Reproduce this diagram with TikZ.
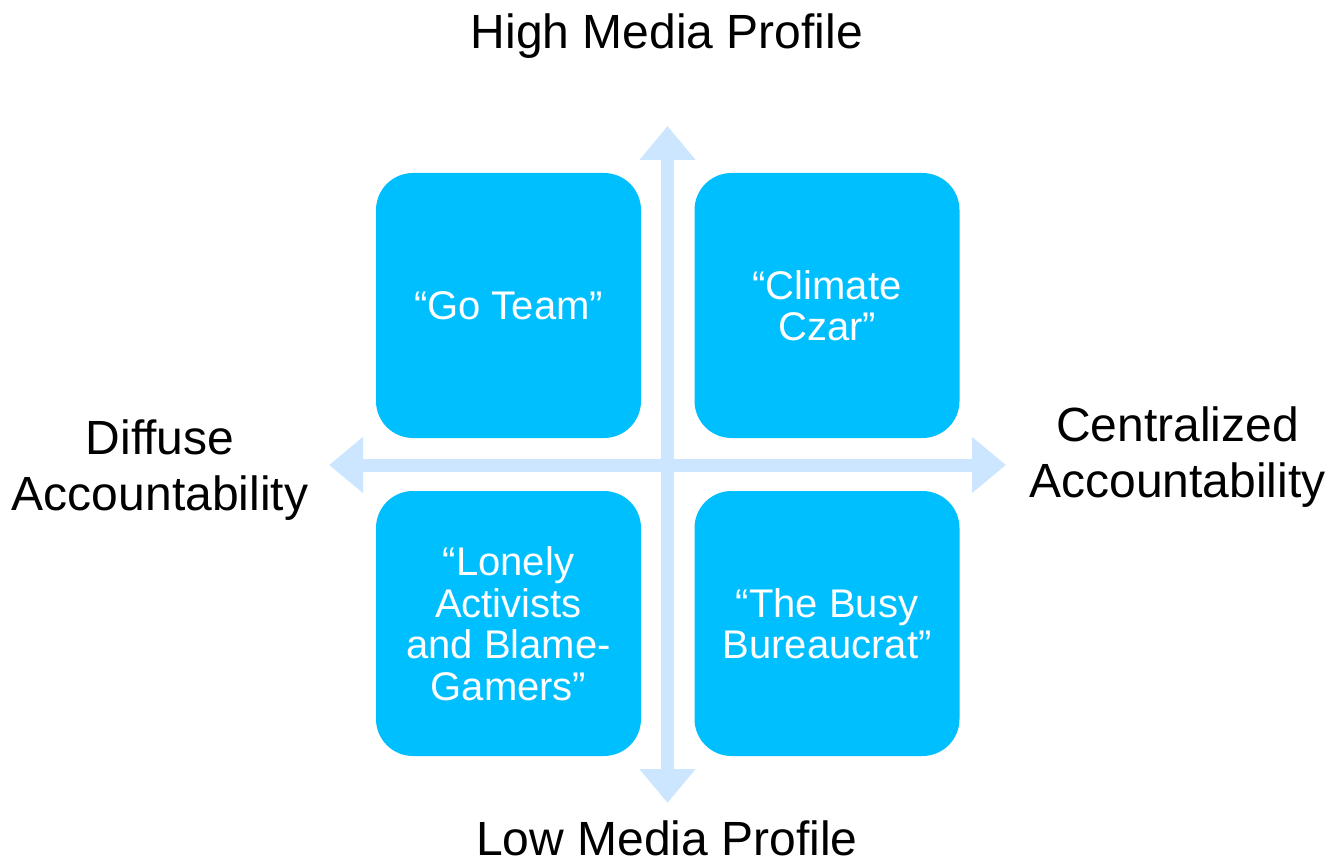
\documentclass[tikz,border=0pt]{standalone}
\usepackage{fontspec}
\setmainfont{Liberation Sans}
\usetikzlibrary{arrows.meta}
\definecolor{quadblue}{RGB}{0,191,255}
\definecolor{axisblue}{RGB}{204,230,255}
\tikzset{
  quad/.style={fill=quadblue, rounded corners=37pt, minimum width=265pt,
    minimum height=265pt, inner sep=0pt, text=white, align=center,
    font=\fontsize{40}{41.5}\selectfont},
  axis/.style={draw=axisblue, line width=13pt,
    {Triangle[width=54pt,length=34pt]}-{Triangle[width=54pt,length=34pt]}},
  axislabel/.style={align=center, inner sep=0pt, font=\fontsize{48}{56}\selectfont}
}
\begin{document}
\begin{tikzpicture}[x=1pt,y=-1pt]
  \useasboundingbox (0,0) rectangle (1329,866);
  \coordinate (top) at (667.5,126);
  \coordinate (bottom) at (667.5,803);
  \coordinate (left) at (329,465);
  \coordinate (right) at (1006,465);
  \draw[axis] (bottom) -- (top);
  \draw[axis] (left) -- (right);
  \node[quad] (goteam) at (508.5,305.5) {“Go Team”};
  \node[quad] (czar) at (827,305.5) {“Climate\\Czar”};
  \node[quad] (lonely) at (508.5,623.5) {“Lonely\\Activists\\and Blame-\\Gamers”};
  \node[quad] (busy) at (827,623.5) {“The Busy\\Bureaucrat”};
  \node[axislabel, anchor=base] (high) at (667,49) {High Media Profile};
  \node[axislabel, anchor=base] (low) at (667,855) {Low Media Profile};
  \node[axislabel] (diffuse) at (160,470) {Diffuse\\Accountability};
  \node[axislabel] (central) at (1177.5,457.5) {Centralized\\Accountability};
\end{tikzpicture}
\end{document}
